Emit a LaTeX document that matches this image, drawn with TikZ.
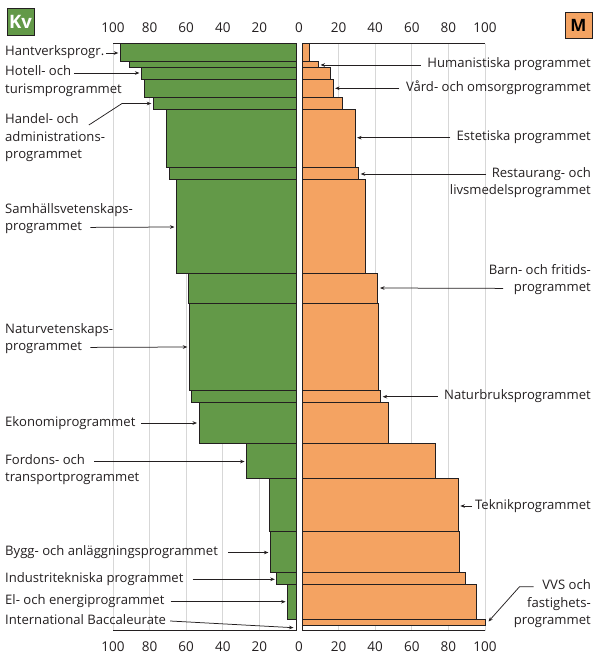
\documentclass[tikz,border=0pt]{standalone}
\usepackage{fontspec}
\setmainfont{Open Sans}
\usetikzlibrary{arrows.meta, positioning}
\definecolor{kvgreen}{RGB}{99,153,72}
\definecolor{morange}{RGB}{244,163,98}
\definecolor{textgray}{RGB}{35,31,32}
\definecolor{gridgray}{RGB}{215,215,215}
\tikzset{
  kvbox/.style={fill=kvgreen, draw=textgray, line width=1pt},
  mbox/.style={fill=morange, draw=textgray, line width=1pt},
  gridline/.style={draw=gridgray, line width=0.8pt},
  axisline/.style={draw=textgray, line width=1pt},
  lbl/.style={inner sep=0pt, text height=9pt, text depth=3pt, text=textgray, font=\fontsize{13.1}{17}\selectfont},
  tick/.style={inner sep=0pt, text=textgray, font=\fontsize{13.5}{16}\selectfont},
  pil/.style={-{Stealth[length=4.5pt,width=3.6pt]}, line width=0.75pt, draw=textgray},
}
% one programme: top, bottom, share of women in percent
\newcommand{\progbar}[3]{%
  \draw[kvbox] (296-1.83*#3,#1) rectangle (296,#2);
  \draw[mbox] (302,#1) rectangle (485-1.83*#3,#2);}

\begin{document}
\begin{tikzpicture}[x=1pt,y=-1pt]
\useasboundingbox (0,0) rectangle (595,655);

% gridlines
\draw[gridline] (113,44) -- (113,630.5);
\draw[gridline] (149.6,44) -- (149.6,630.5);
\draw[gridline] (186.2,44) -- (186.2,630.5);
\draw[gridline] (222.8,44) -- (222.8,630.5);
\draw[gridline] (259.4,44) -- (259.4,630.5);
\draw[gridline] (338.6,44) -- (338.6,630.5);
\draw[gridline] (375.2,44) -- (375.2,630.5);
\draw[gridline] (411.8,44) -- (411.8,630.5);
\draw[gridline] (448.4,44) -- (448.4,630.5);
\draw[gridline] (485,44) -- (485,630.5);

% bars
\progbar{44}{62}{96}
\progbar{62}{68}{91}
\progbar{68}{80}{84.5}
\progbar{80}{97.7}{83}
\progbar{97.7}{109.3}{78}
\progbar{109.3}{167.3}{71}
\progbar{167.3}{179.7}{69}
\progbar{179.7}{273.7}{65.3}
\progbar{273.7}{303.3}{58.5}
\progbar{303.3}{390.7}{58.3}
\progbar{390.7}{402.7}{57}
\progbar{402.7}{443.3}{53}
\progbar{443.3}{478.7}{27}
\progbar{478.7}{531.3}{14.6}
\progbar{531.3}{572}{14}
\progbar{572}{584}{10.5}
\progbar{584}{619.3}{4.6}
\progbar{619.3}{625.5}{0}

% axes
\draw[axisline] (113,44) -- (296,44) -- (296,630.5) -- (113,630.5);
\draw[axisline] (485,44) -- (302,44) -- (302,630.5) -- (485,630.5);

% scale
\node[tick] (top100l) at (113,28) {100};
\node[tick] (top80l) at (149.6,28) {80};
\node[tick] (top60l) at (186.2,28) {60};
\node[tick] (top40l) at (222.8,28) {40};
\node[tick] (top20l) at (259.4,28) {20};
\node[tick] (top0) at (299,28) {0};
\node[tick] (top20r) at (338.6,28) {20};
\node[tick] (top40r) at (375.2,28) {40};
\node[tick] (top60r) at (411.8,28) {60};
\node[tick] (top80r) at (448.4,28) {80};
\node[tick] (top100r) at (485,28) {100};
\node[tick] (bot100l) at (113,647) {100};
\node[tick] (bot80l) at (149.6,647) {80};
\node[tick] (bot60l) at (186.2,647) {60};
\node[tick] (bot40l) at (222.8,647) {40};
\node[tick] (bot20l) at (259.4,647) {20};
\node[tick] (bot0) at (299,647) {0};
\node[tick] (bot20r) at (338.6,647) {20};
\node[tick] (bot40r) at (375.2,647) {40};
\node[tick] (bot60r) at (411.8,647) {60};
\node[tick] (bot80r) at (448.4,647) {80};
\node[tick] (bot100r) at (485,647) {100};

% key boxes
\node[draw=textgray, fill=kvgreen, minimum width=27pt, minimum height=27pt, inner sep=0pt,
  text=white, font=\bfseries\fontsize{18.5}{18.5}\selectfont] (kv) at (20.5,22) {Kv};
\node[draw=textgray, fill=morange, minimum width=27pt, minimum height=26pt, inner sep=0pt,
  text=black, font=\bfseries\fontsize{17}{17}\selectfont] (m) at (578.5,25) {M};

% targets on the bars
\coordinate (p-hantverk) at (118.3,53);
\coordinate (p-hotell) at (139.4,73);
\coordinate (p-handel) at (151.3,103.5);
\coordinate (p-samhall) at (174.5,227);
\coordinate (p-naturvet) at (187.3,347);
\coordinate (p-ekonomi) at (197,423);
\coordinate (p-fordons) at (244.6,461.5);
\coordinate (p-bygg) at (268.4,552.5);
\coordinate (p-industri) at (274.8,579.3);
\coordinate (p-el) at (285.6,601.7);
\coordinate (p-ib) at (293.5,627.7);
\coordinate (p-human) at (320.5,65);
\coordinate (p-vard) at (335.1,88.3);
\coordinate (p-estetiska) at (357.1,137.7);
\coordinate (p-restaurang) at (360.7,174);
\coordinate (p-barn) at (380,288);
\coordinate (p-naturbruk) at (382.7,396.7);
\coordinate (p-teknik) at (460.3,506);
\coordinate (p-vvs) at (488.5,621.5);

% labels, women
\node[lbl, anchor=west] (hantverk) at (5,53) {Hantverksprogr.};
\node[lbl, anchor=west] (hotell) at (5,73) {Hotell- och};
\node[lbl, below=5pt of hotell.south west, anchor=north west] (hotell2) {turismprogrammet};
\node[lbl, anchor=west] (handel) at (5,121) {Handel- och};
\node[lbl, below=5pt of handel.south west, anchor=north west] (handel2) {administrations-};
\node[lbl, below=5pt of handel2.south west, anchor=north west] (handel3) {programmet};
\node[lbl, anchor=west] (samhall) at (5,210) {Samhällsvetenskaps-};
\node[lbl, below=5pt of samhall.south west, anchor=north west] (samhall2) {programmet};
\node[lbl, anchor=west] (naturvet) at (5,330) {Naturvetenskaps-};
\node[lbl, below=5pt of naturvet.south west, anchor=north west] (naturvet2) {programmet};
\node[lbl, anchor=west] (ekonomi) at (5,423) {Ekonomiprogrammet};
\node[lbl, anchor=west] (fordons) at (5,461.5) {Fordons- och};
\node[lbl, below=5pt of fordons.south west, anchor=north west] (fordons2) {transportprogrammet};
\node[lbl, anchor=west] (bygg) at (5,552.5) {Bygg- och anläggningsprogrammet};
\node[lbl, anchor=west] (industri) at (5,579.3) {Industritekniska programmet};
\node[lbl, anchor=west] (el) at (5,601.7) {El- och energiprogrammet};
\node[lbl, anchor=west] (ib) at (5,621) {International Baccaleurate};

% labels, men
\node[lbl, anchor=east] (human) at (591,65) {Humanistiska programmet};
\node[lbl, anchor=east] (vard) at (591,88.3) {Vård- och omsorgprogrammet};
\node[lbl, anchor=east] (estetiska) at (591,137.7) {Estetiska programmet};
\node[lbl, anchor=east] (restaurang) at (591,174) {Restaurang- och};
\node[lbl, below=5pt of restaurang.south east, anchor=north east] (restaurang2) {livsmedelsprogrammet};
\node[lbl, anchor=east] (barn) at (591,271) {Barn- och fritids-};
\node[lbl, below=5pt of barn.south east, anchor=north east] (barn2) {programmet};
\node[lbl, anchor=east] (naturbruk) at (591,396.7) {Naturbruksprogrammet};
\node[lbl, anchor=east] (teknik) at (591,506) {Teknikprogrammet};
\node[lbl, anchor=east] (vvs) at (591,586.7) {VVS och};
\node[lbl, below=5pt of vvs.south east, anchor=north east] (vvs2) {fastighets-};
\node[lbl, below=5pt of vvs2.south east, anchor=north east] (vvs3) {programmet};

% arrows
\draw[pil] ([xshift=2]hantverk.east) -- (p-hantverk);
\draw[pil] ([xshift=2.5]hotell.east) -- (p-hotell);
\draw[pil] ([shift={(10,4)}]handel.east) -- (122,103.5) -- (p-handel);
\draw[pil] ([xshift=8]samhall2.east) -- (p-samhall);
\draw[pil] ([xshift=8]naturvet2.east) -- (p-naturvet);
\draw[pil] ([xshift=5.5]ekonomi.east) -- (p-ekonomi);
\draw[pil] ([xshift=9]fordons.east) -- (p-fordons);
\draw[pil] ([xshift=10]bygg.east) -- (p-bygg);
\draw[pil] ([xshift=9]industri.east) -- (p-industri);
\draw[pil] ([xshift=6]el.east) -- (p-el);
\draw[pil] ([xshift=4]ib.east) -- (p-ib);
\draw[pil] ([xshift=-6.5]human.west) -- (p-human);
\draw[pil] ([xshift=-6.5]vard.west) -- (p-vard);
\draw[pil] ([xshift=-6]estetiska.west) -- (p-estetiska);
\draw[pil] ([xshift=-5.5]restaurang.west) -- (p-restaurang);
\draw[pil] ([xshift=-10.5]barn2.west) -- (p-barn);
\draw[pil] ([xshift=-6]naturbruk.west) -- (p-naturbruk);
\draw[pil] ([xshift=-2.7]teknik.west) -- (p-teknik);
\draw[pil] ([xshift=-8.7]vvs.west) -- ++(-14,0) -- (p-vvs);
\end{tikzpicture}
\end{document}
